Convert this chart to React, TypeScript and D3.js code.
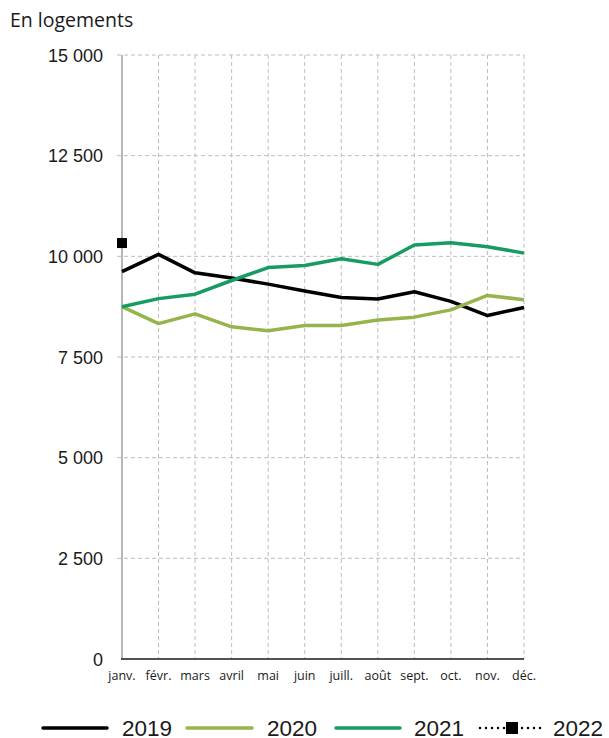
import React from "react";
import * as d3 from "d3";

const months = ["janv.", "févr.", "mars", "avril", "mai", "juin", "juill.", "août", "sept.", "oct.", "nov.", "déc."];
const yTicks = [0, 2500, 5000, 7500, 10000, 12500, 15000];
const s2019 = [9620, 10050, 9590, 9460, 9310, 9140, 8980, 8940, 9120, 8880, 8530, 8730];
const s2020 = [8750, 8330, 8570, 8250, 8150, 8280, 8280, 8420, 8490, 8670, 9030, 8920];
const s2021 = [8750, 8950, 9060, 9400, 9720, 9770, 9940, 9800, 10280, 10340, 10240, 10080];
const s2022 = [10330];

const seriesNames = ["2019", "2020", "2021", "2022"];
const colors = ["#000000", "#95b54c", "#169c62", "#000000"];

const fmt = (v: number) => (v >= 1000 ? d3.format(",")(v).replace(",", " ") : String(v));

export default function App() {
  const W = 609, H = 738;
  const x = d3.scalePoint<string>().domain(months).range([122, 524]);
  const y = d3.scaleLinear().domain([0, 15000]).range([659, 55]);
  const line = d3.line<number>().x((_, i) => x(months[i])!).y((d) => y(d));
  const data = [s2019, s2020, s2021];
  const sans = "'Liberation Sans', Arial, sans-serif";
  const human = "'Open Sans', 'Noto Sans', sans-serif";

  const legendItems = [
    { x1: 43, x2: 107, tx: 122 },
    { x1: 187, x2: 252, tx: 267 },
    { x1: 336, x2: 400, tx: 414 },
    { x1: 480, x2: 541, tx: 553 },
  ];
  const ly = 728;

  return (
    <svg width={W} height={H} style={{ position: "absolute", left: 0, top: 0, background: "#fff" }}>
      <rect width={W} height={H} fill="#fff" />
      <text x={10} y={27} fontFamily={human} fontSize={19.5} fill="#1a1a1a">En logements</text>
      {yTicks.map((t) => (
        <g key={t}>
          {t > 0 && (
            <line x1={117} x2={524} y1={y(t)} y2={y(t)} stroke="#bdbdbd" strokeWidth={1} strokeDasharray="4,3" />
          )}
          <text x={103} y={y(t) + 6.5} textAnchor="end" fontFamily={sans} fontSize={18} fill="#1a1a1a">{fmt(t)}</text>
        </g>
      ))}
      {months.map((m, i) => (
        <g key={m}>
          {i > 0 && (
            <line x1={x(m)} x2={x(m)} y1={55} y2={659} stroke="#bdbdbd" strokeWidth={1} strokeDasharray="4,3" />
          )}
          <text x={x(m)} y={680} textAnchor="middle" fontFamily={human} fontSize={12.5} fontWeight={500} fill="#1a1a1a">{m}</text>
        </g>
      ))}
      <line x1={122} x2={122} y1={55} y2={659} stroke="#9e9e9e" strokeWidth={1.5} />
      <line x1={121} x2={524} y1={659} y2={659} stroke="#1a1a1a" strokeWidth={1.3} />
      {data.map((d, i) => (
        <path key={i} d={line(d)!} fill="none" stroke={colors[i]} strokeWidth={3.5} strokeLinejoin="round" />
      ))}
      {s2022.map((v, i) => (
        <rect key={i} x={x(months[i])! - 5} y={y(v) - 5} width={10} height={10} fill="#000" />
      ))}
      {legendItems.map((it, i) => (
        <g key={i}>
          {i < 3 ? (
            <line x1={it.x1} x2={it.x2} y1={ly} y2={ly} stroke={colors[i]} strokeWidth={3.5} strokeLinecap="round" />
          ) : (
            <g>
              <line x1={it.x1} x2={it.x2} y1={ly} y2={ly} stroke="#000" strokeWidth={2.5} strokeDasharray="0,6" strokeLinecap="round" />
              <rect x={506} y={ly - 6} width={12} height={12} fill="#000" />
            </g>
          )}
          <text x={it.tx} y={ly + 8} fontFamily={sans} fontSize={22.5} fill="#1a1a1a">{seriesNames[i]}</text>
        </g>
      ))}
    </svg>
  );
}
